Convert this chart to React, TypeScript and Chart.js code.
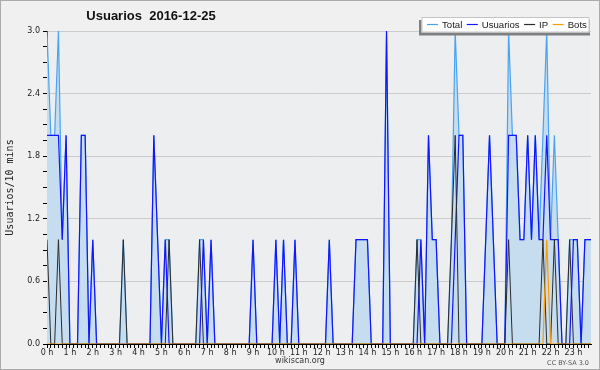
import React, { useEffect, useRef } from 'react';
import { Chart, registerables } from 'chart.js';

Chart.register(...registerables);

// ---------- texts ----------
const TITLE = 'Usuarios  2016-12-25';
const Y_TITLE = 'Usuarios/10 mins';
const X_NOTE = 'wikiscan.org';
const LICENSE = 'CC BY-SA 3.0';
const SERIES_NAMES = ['Total', 'Usuarios', 'IP', 'Bots'];
const HOUR_LABELS = [
  '0 h', '1 h', '2 h', '3 h', '4 h', '5 h', '6 h', '7 h', '8 h', '9 h', '10 h', '11 h',
  '12 h', '13 h', '14 h', '15 h', '16 h', '17 h', '18 h', '19 h', '20 h', '21 h', '22 h', '23 h',
];

// ---------- values: one value per 10-minute slot (6 per hour) ----------
const TOTAL = [
  3, 2, 2, 3, 1, 2, /* 0h */ 0, 0, 0, 2, 2, 0, /* 1h */ 1, 0, 0, 0, 0, 0, /* 2h */ 0, 0, 1, 0, 0, 0,
  0, 0, 0, 0, 2, 1, /* 4h */ 0, 1, 1, 0, 0, 0, /* 5h */ 0, 0, 0, 0, 1, 1, /* 6h */ 0, 1, 0, 0, 0, 0,
  0, 0, 0, 0, 0, 0, /* 8h */ 1, 0, 0, 0, 0, 0, /* 9h */ 1, 0, 1, 0, 0, 1, /* 10h */ 0, 0, 0, 0, 0, 0,
  0, 0, 1, 0, 0, 0, /* 12h */ 0, 0, 0, 1, 1, 1, /* 13h */ 1, 0, 0, 0, 0, 3, /* 14h */ 0, 0, 0, 0, 0, 0,
  0, 1, 1, 0, 2, 1, /* 16h */ 1, 0, 0, 0, 1, 3, /* 17h */ 2, 2, 0, 0, 0, 0, /* 18h */ 0, 1, 2, 1, 0, 0,
  0, 3, 2, 2, 1, 1, /* 20h */ 2, 1, 2, 1, 2, 3, /* 21h */ 1, 2, 1, 0, 0, 1, /* 22h */ 1, 1, 0, 1, 1, 1,
];
const USUARIOS = [
  2, 2, 2, 2, 1, 2, 0, 0, 0, 2, 2, 0, 1, 0, 0, 0, 0, 0, 0, 0, 0, 0, 0, 0,
  0, 0, 0, 0, 2, 1, 0, 1, 0, 0, 0, 0, 0, 0, 0, 0, 0, 1, 0, 1, 0, 0, 0, 0,
  0, 0, 0, 0, 0, 0, 1, 0, 0, 0, 0, 0, 1, 0, 1, 0, 0, 1, 0, 0, 0, 0, 0, 0,
  0, 0, 1, 0, 0, 0, 0, 0, 0, 1, 1, 1, 1, 0, 0, 0, 0, 3, 0, 0, 0, 0, 0, 0,
  0, 0, 1, 0, 2, 1, 1, 0, 0, 0, 0, 1, 2, 2, 0, 0, 0, 0, 0, 1, 2, 1, 0, 0,
  0, 2, 2, 2, 1, 1, 2, 1, 2, 1, 1, 2, 1, 1, 1, 0, 0, 0, 1, 1, 0, 1, 1, 1,
];
const IP = [
  1, 0, 0, 1, 0, 0, 0, 0, 0, 0, 0, 0, 0, 0, 0, 0, 0, 0, 0, 0, 1, 0, 0, 0,
  0, 0, 0, 0, 0, 0, 0, 0, 1, 0, 0, 0, 0, 0, 0, 0, 1, 0, 0, 0, 0, 0, 0, 0,
  0, 0, 0, 0, 0, 0, 0, 0, 0, 0, 0, 0, 0, 0, 0, 0, 0, 0, 0, 0, 0, 0, 0, 0,
  0, 0, 0, 0, 0, 0, 0, 0, 0, 0, 0, 0, 0, 0, 0, 0, 0, 0, 0, 0, 0, 0, 0, 0,
  0, 1, 0, 0, 0, 0, 0, 0, 0, 0, 1, 2, 0, 0, 0, 0, 0, 0, 0, 0, 0, 0, 0, 0,
  0, 1, 0, 0, 0, 0, 0, 0, 0, 0, 1, 0, 0, 1, 0, 0, 0, 1, 0, 0, 0, 0, 0, 0,
];
const BOTS = [
  0, 0, 0, 0, 0, 0, 0, 0, 0, 0, 0, 0, 0, 0, 0, 0, 0, 0, 0, 0, 0, 0, 0, 0,
  0, 0, 0, 0, 0, 0, 0, 0, 0, 0, 0, 0, 0, 0, 0, 0, 0, 0, 0, 0, 0, 0, 0, 0,
  0, 0, 0, 0, 0, 0, 0, 0, 0, 0, 0, 0, 0, 0, 0, 0, 0, 0, 0, 0, 0, 0, 0, 0,
  0, 0, 0, 0, 0, 0, 0, 0, 0, 0, 0, 0, 0, 0, 0, 0, 0, 0, 0, 0, 0, 0, 0, 0,
  0, 0, 0, 0, 0, 0, 0, 0, 0, 0, 0, 0, 0, 0, 0, 0, 0, 0, 0, 0, 0, 0, 0, 0,
  0, 0, 0, 0, 0, 0, 0, 0, 0, 0, 0, 1, 0, 0, 0, 0, 0, 0, 0, 0, 0, 0, 0, 0,
];

const Y_MAX = 3;
const Y_MINOR_STEP = 0.15;
const Y_LABEL_EVERY = 4; // label every 4 minor steps (0.6)
const SLOTS_PER_HOUR = 6;

const SLOTS = TOTAL.map((_, i) => i);

const COLORS = ['#4aa3f0', '#1414ff', '#2b2b2b', '#ff9a00'];
const WIDTHS = [1.2, 1.2, 1, 1.2];
const SERIES = [TOTAL, USUARIOS, IP, BOTS];

const chrome = {
  id: 'chrome',
  beforeDraw(chart: any) {
    const { ctx, chartArea: a, width, height } = chart;
    ctx.save();
    ctx.fillStyle = '#f0f0f0';
    ctx.fillRect(0, 0, width, height);
    ctx.fillStyle = '#edeef0';
    ctx.fillRect(a.left, a.top, a.right - a.left, a.bottom - a.top);
    ctx.strokeStyle = '#ababab';
    ctx.lineWidth = 1;
    ctx.strokeRect(0.5, 0.5, width - 1, height - 1);
    ctx.restore();
  },
  afterDraw(chart: any) {
    const { ctx } = chart;
    ctx.save();
    // title
    ctx.fillStyle = '#111';
    ctx.font = 'bold 13px "Liberation Sans", Arial, sans-serif';
    ctx.textAlign = 'center';
    ctx.textBaseline = 'middle';
    ctx.fillText(TITLE, 151, 16.5);

    // legend box with shadow
    ctx.fillStyle = '#7f7f7f';
    ctx.fillRect(419, 20, 171, 15.5);
    ctx.fillStyle = '#ffffff';
    ctx.fillRect(421.5, 17, 168, 15.5);
    ctx.strokeStyle = '#c4c4c4';
    ctx.lineWidth = 1;
    ctx.strokeRect(422, 17.5, 167, 14.5);

    ctx.font = '9.6px "Liberation Sans", Arial, sans-serif';
    ctx.textAlign = 'left';
    ctx.textBaseline = 'middle';
    let x = 427;
    chart.data.datasets.forEach((ds: any) => {
      ctx.strokeStyle = ds.borderColor;
      ctx.lineWidth = 1.2;
      ctx.beginPath();
      ctx.moveTo(x, 24.5);
      ctx.lineTo(x + 11, 24.5);
      ctx.stroke();
      ctx.fillStyle = '#222';
      ctx.fillText(ds.label, x + 15, 25);
      x += 15 + ctx.measureText(ds.label).width + 4.5;
    });

    // bottom notes
    ctx.fillStyle = '#333';
    ctx.font = '8px "DejaVu Sans", sans-serif';
    ctx.textAlign = 'center';
    ctx.fillText(X_NOTE, 300, 361);
    ctx.fillStyle = '#555';
    ctx.font = '6.5px "DejaVu Sans", sans-serif';
    ctx.textAlign = 'right';
    ctx.fillText(LICENSE, 589, 363);
    ctx.restore();
  },
};

export default function App() {
  const ref = useRef<HTMLCanvasElement>(null);

  useEffect(() => {
    if (!ref.current) return;
    const chart = new Chart(ref.current, {
      type: 'line',
      data: {
        labels: SLOTS,
        datasets: SERIES.map((values, k) => ({
          label: SERIES_NAMES[k],
          data: values,
          borderColor: COLORS[k],
          backgroundColor: k === 0 ? '#c6ddf0' : COLORS[k],
          fill: k === 0 ? 'origin' : false,
          borderWidth: WIDTHS[k],
          pointRadius: 0,
          tension: 0,
          order: 3 - k,
        })),
      },
      options: {
        responsive: false,
        maintainAspectRatio: false,
        animation: false,
        devicePixelRatio: 1,
        layout: { padding: { left: 0, right: 9, top: 31, bottom: 0 } },
        plugins: {
          legend: { display: false },
          tooltip: { enabled: false },
          title: { display: false },
        },
        scales: {
          x: {
            type: 'linear',
            min: 0,
            max: 142.6,
            bounds: 'data',
            z: 1,
            afterFit(scale: any) {
              scale.height = 26;
            },
            ticks: {
              stepSize: 1,
              autoSkip: false,
              includeBounds: false,
              maxRotation: 0,
              minRotation: 0,
              padding: 0,
              color: '#222',
              font: { family: '"DejaVu Sans", sans-serif', size: 8 },
              callback: (v: any) => {
                const n = Number(v);
                return Number.isInteger(n) && n % SLOTS_PER_HOUR === 0
                  ? HOUR_LABELS[n / SLOTS_PER_HOUR] ?? ''
                  : '';
              },
            },
            grid: {
              drawOnChartArea: false,
              drawTicks: true,
              tickLength: 4,
              color: '#000',
              tickColor: '#000',
            },
            border: { display: true, color: '#000', width: 1 },
          },
          y: {
            type: 'linear',
            min: 0,
            max: Y_MAX,
            afterFit(scale: any) {
              scale.width = 47;
            },
            title: {
              display: true,
              text: Y_TITLE,
              color: '#222',
              font: { family: '"DejaVu Sans Mono", monospace', size: 10 },
              padding: { top: 4, bottom: 4 },
            },
            ticks: {
              stepSize: Y_MINOR_STEP,
              padding: 3,
              color: '#222',
              font: { family: '"DejaVu Sans", sans-serif', size: 8 },
              callback: (v: any) => {
                const k = Math.round(Number(v) / Y_MINOR_STEP);
                return k % Y_LABEL_EVERY === 0 ? Number(v).toFixed(1) : '';
              },
            },
            grid: {
              drawTicks: true,
              tickLength: 4,
              tickColor: '#000',
              lineWidth: 1,
              color: (ctx: any) => {
                const v = ctx.tick ? ctx.tick.value : 0;
                const k = Math.round(v / Y_MINOR_STEP);
                return k > 0 && k % Y_LABEL_EVERY === 0 ? '#cbcbcb' : 'rgba(0,0,0,0)';
              },
            },
            border: { display: true, color: '#000', width: 1 },
          },
        },
      },
      plugins: [chrome],
    } as any);
    return () => chart.destroy();
  }, []);

  return (
    <div style={{ position: 'absolute', left: 0, top: 0, width: 600, height: 370 }}>
      <canvas ref={ref} width={600} height={370} style={{ display: 'block', width: 600, height: 370 }} />
    </div>
  );
}
